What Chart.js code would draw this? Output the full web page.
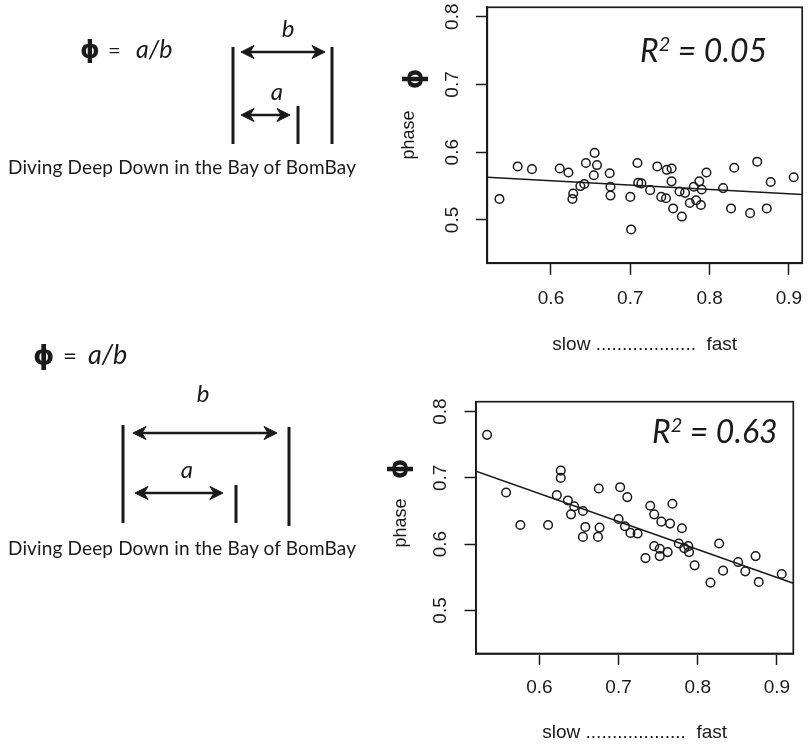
<!DOCTYPE html>
<html>
<head>
<meta charset="utf-8">
<script src="https://cdn.jsdelivr.net/npm/chart.js@4.4.0/dist/chart.umd.min.js"></script>
<style>
  body { margin: 0; width: 808px; height: 745px; background: #fff; position: relative; overflow: hidden; }
  .plot { position: absolute; }
  #overlay { position: absolute; left: 0; top: 0; pointer-events: none; }
</style>
</head>
<body>
<div class="plot" style="left:380px; top:0px;"><canvas id="topChart" width="428" height="360"></canvas></div>
<div class="plot" style="left:370px; top:390px;"><canvas id="bottomChart" width="438" height="355"></canvas></div>

<svg id="overlay" width="808" height="745" xmlns="http://www.w3.org/2000/svg">
  <g fill="#1a1a1a" font-family="Lato, 'Open Sans', sans-serif">
    <!-- top diagram -->
    <text x="80" y="58" font-family="DejaVu Sans" font-weight="bold" font-size="25">ϕ</text>
    <text x="108" y="58" font-size="22">=</text>
    <text x="136" y="58" font-size="25" font-style="italic">a/b</text>
    <text x="288" y="37" font-size="24" font-style="italic" text-anchor="middle">b</text>
    <text x="277" y="100" font-size="24" font-style="italic" text-anchor="middle">a</text>
    <text x="8" y="174" font-size="19" textLength="348" lengthAdjust="spacing">Diving Deep Down in the Bay of BomBay</text>

    <!-- bottom diagram -->
    <text x="33" y="364" font-family="DejaVu Sans" font-weight="bold" font-size="27">ϕ</text>
    <text x="63" y="364" font-size="24">=</text>
    <text x="88" y="364" font-size="27" font-style="italic">a/b</text>
    <text x="203" y="402" font-size="24" font-style="italic" text-anchor="middle">b</text>
    <text x="187" y="478" font-size="24" font-style="italic" text-anchor="middle">a</text>
    <text x="8" y="555" font-size="19" textLength="348" lengthAdjust="spacing">Diving Deep Down in the Bay of BomBay</text>

    <!-- R squared labels -->
    <text x="640" y="62" font-size="32" font-style="italic">R<tspan dy="-11" font-size="20">2</tspan><tspan dy="11"> = 0.05</tspan></text>
    <text x="652" y="443" font-size="32" font-style="italic">R<tspan dy="-11" font-size="20">2</tspan><tspan dy="11"> = 0.63</tspan></text>
  </g>

  <!-- y axis titles -->
  <g fill="#1a1a1a">
    <text transform="translate(408,135) rotate(-90)" text-anchor="middle" dominant-baseline="central" font-family="'Liberation Sans', Arial, sans-serif" font-size="18">phase</text>
    <text transform="translate(413,79) rotate(-90)" text-anchor="middle" dominant-baseline="central" font-family="DejaVu Sans" font-weight="bold" font-size="26">ϕ</text>
    <text transform="translate(400,523) rotate(-90)" text-anchor="middle" dominant-baseline="central" font-family="'Liberation Sans', Arial, sans-serif" font-size="18">phase</text>
    <text transform="translate(398,469) rotate(-90)" text-anchor="middle" dominant-baseline="central" font-family="DejaVu Sans" font-weight="bold" font-size="26">ϕ</text>
  </g>

  <!-- bars and arrows of the diagrams -->
  <g stroke="#1a1a1a" stroke-width="3" fill="none">
    <line x1="233" y1="47" x2="233" y2="144"/>
    <line x1="332" y1="47" x2="332" y2="144"/>
    <line x1="298" y1="106" x2="298" y2="144"/>
    <line x1="123" y1="425" x2="123" y2="523"/>
    <line x1="289" y1="427" x2="289" y2="526"/>
    <line x1="236" y1="485" x2="236" y2="523"/>
  </g>
  <g id="arrows" stroke="#1a1a1a" stroke-width="2.5" fill="#1a1a1a"></g>
</svg>

<script>
// axis ticks
const xTicks = [0.6, 0.7, 0.8, 0.9];
const yTicks = [0.5, 0.6, 0.7, 0.8];

// top panel (R^2 = 0.05)
const topX = [0.535, 0.558, 0.576, 0.611, 0.622, 0.628, 0.627, 0.637, 0.642, 0.644,
              0.655, 0.658, 0.654, 0.674, 0.675, 0.675, 0.700, 0.701, 0.709, 0.710,
              0.714, 0.725, 0.734, 0.746, 0.752, 0.752, 0.739, 0.745, 0.754, 0.765,
              0.762, 0.769, 0.775, 0.780, 0.787, 0.790, 0.783, 0.789, 0.796, 0.817,
              0.831, 0.827, 0.851, 0.860, 0.872, 0.877, 0.906];
const topY = [0.531, 0.579, 0.575, 0.576, 0.570, 0.539, 0.531, 0.550, 0.553, 0.584,
              0.599, 0.581, 0.566, 0.569, 0.549, 0.536, 0.534, 0.486, 0.584, 0.555,
              0.554, 0.544, 0.579, 0.574, 0.576, 0.557, 0.534, 0.532, 0.517, 0.505,
              0.542, 0.540, 0.525, 0.549, 0.557, 0.545, 0.529, 0.522, 0.570, 0.547,
              0.577, 0.517, 0.510, 0.586, 0.517, 0.556, 0.563];
const topFitX = [0.5197, 0.9167];
const topFitY = [0.563, 0.5376];
const topXRange = [0.5197, 0.9167];
const topYRange = [0.436, 0.8139];

// bottom panel (R^2 = 0.63)
const bottomX = [0.534, 0.558, 0.576, 0.611, 0.622, 0.627, 0.627, 0.636, 0.644, 0.640,
                 0.655, 0.658, 0.655, 0.675, 0.676, 0.674, 0.702, 0.711, 0.700, 0.708,
                 0.715, 0.724, 0.740, 0.745, 0.754, 0.765, 0.768, 0.780, 0.745, 0.752,
                 0.752, 0.734, 0.762, 0.776, 0.783, 0.788, 0.789, 0.796, 0.827, 0.816,
                 0.832, 0.851, 0.860, 0.873, 0.877, 0.906];
const bottomY = [0.765, 0.678, 0.629, 0.629, 0.674, 0.711, 0.700, 0.666, 0.657, 0.645,
                 0.650, 0.626, 0.611, 0.684, 0.625, 0.611, 0.686, 0.671, 0.638, 0.627,
                 0.617, 0.616, 0.658, 0.645, 0.634, 0.631, 0.661, 0.624, 0.597, 0.593,
                 0.582, 0.579, 0.588, 0.601, 0.594, 0.597, 0.588, 0.568, 0.601, 0.542,
                 0.560, 0.573, 0.559, 0.582, 0.543, 0.555];
const bottomFitX = [0.52, 0.9206];
const bottomFitY = [0.710, 0.541];
const bottomXRange = [0.52, 0.9206];
const bottomYRange = [0.435, 0.815];

const axisTitle = 'slow ...................  fast';
const ink = '#1a1a1a';

// diagram arrows (double headed)
function drawArrow(g, x1, x2, y) {
    const ns = 'http://www.w3.org/2000/svg';
    const shaft = document.createElementNS(ns, 'line');
    shaft.setAttribute('x1', x1 + 4);
    shaft.setAttribute('x2', x2 - 4);
    shaft.setAttribute('y1', y);
    shaft.setAttribute('y2', y);
    g.appendChild(shaft);
    [[x1, 1], [x2, -1]].forEach(([tx, d]) => {
        const head = document.createElementNS(ns, 'path');
        head.setAttribute('d', `M${tx} ${y} L${tx + d * 13} ${y - 6.5} L${tx + d * 9} ${y} L${tx + d * 13} ${y + 6.5} Z`);
        head.setAttribute('stroke-width', '1');
        g.appendChild(head);
    });
}

const arrowGroup = document.getElementById('arrows');
drawArrow(arrowGroup, 241, 325, 52);
drawArrow(arrowGroup, 241, 290, 115);
drawArrow(arrowGroup, 133, 277, 433);
drawArrow(arrowGroup, 135, 223, 493);

const boxPlugin = {
    id: 'box',
    afterDraw(chart) {
        const a = chart.chartArea;
        const ctx = chart.ctx;
        ctx.save();
        ctx.strokeStyle = ink;
        ctx.lineWidth = 1.7;
        ctx.strokeRect(a.left, a.top, a.right - a.left, a.bottom - a.top);
        ctx.restore();
    }
};

// labels must not push the plot box around
function noOverflow(axis) {
    axis.paddingLeft = 0;
    axis.paddingRight = 0;
    axis.paddingTop = 0;
    axis.paddingBottom = 0;
}

function makeChart(id, xs, ys, fitX, fitY, xRange, yRange, layout) {
    const ctx = document.getElementById(id).getContext('2d');
    const points = xs.map((x, i) => ({ x: x, y: ys[i] }));
    const fit = fitX.map((x, i) => ({ x: x, y: fitY[i] }));
    const tickFont = { family: "'Liberation Sans', Arial, sans-serif", size: 19 };

    return new Chart(ctx, {
        type: 'scatter',
        data: {
            datasets: [{
                data: points,
                pointRadius: 4.3,
                pointBorderWidth: 1.5,
                pointBorderColor: ink,
                pointBackgroundColor: 'rgba(0,0,0,0)'
            }, {
                data: fit,
                showLine: true,
                borderColor: ink,
                borderWidth: 1.6,
                pointRadius: 0
            }]
        },
        options: {
            responsive: false,
            animation: false,
            devicePixelRatio: 1,
            layout: { padding: layout.padding },
            plugins: {
                legend: { display: false },
                tooltip: { enabled: false }
            },
            scales: {
                x: {
                    type: 'linear',
                    min: xRange[0],
                    max: xRange[1],
                    afterBuildTicks: axis => { axis.ticks = xTicks.map(v => ({ value: v })); },
                    afterFit: axis => { axis.height = layout.xHeight; noOverflow(axis); },
                    ticks: {
                        font: tickFont,
                        color: ink,
                        padding: layout.xPad,
                        maxRotation: 0,
                        callback: v => v.toFixed(1)
                    },
                    grid: { drawOnChartArea: false, tickLength: 11.5, tickWidth: 1.5, color: ink },
                    border: { display: true, color: ink, width: 1.7 },
                    title: {
                        display: true,
                        text: axisTitle,
                        font: tickFont,
                        color: ink,
                        padding: { top: 0, bottom: layout.titlePad }
                    }
                },
                y: {
                    type: 'linear',
                    min: yRange[0],
                    max: yRange[1],
                    afterBuildTicks: axis => { axis.ticks = yTicks.map(v => ({ value: v })); },
                    afterFit: axis => { axis.width = layout.yWidth; noOverflow(axis); },
                    ticks: {
                        font: tickFont,
                        color: ink,
                        padding: layout.yPad,
                        minRotation: 90,
                        maxRotation: 90,
                        crossAlign: 'center',
                        callback: v => v.toFixed(1)
                    },
                    grid: { drawOnChartArea: false, tickLength: 11.5, tickWidth: 1.5, color: ink },
                    border: { display: true, color: ink, width: 1.7 }
                }
            }
        },
        plugins: [boxPlugin]
    });
}

makeChart('topChart', topX, topY, topFitX, topFitY, topXRange, topYRange, {
    padding: { left: 0, top: 7.3, right: 2.3, bottom: 0 },
    xHeight: 96.7, yWidth: 107.3, xPad: 12.5, yPad: 10, titlePad: 4
});

makeChart('bottomChart', bottomX, bottomY, bottomFitX, bottomFitY, bottomXRange, bottomYRange, {
    padding: { left: 0, top: 11.7, right: 14.7, bottom: 1 },
    xHeight: 90.5, yWidth: 106, xPad: 11.7, yPad: 10.3, titlePad: 0
});
</script>
</body>
</html>
